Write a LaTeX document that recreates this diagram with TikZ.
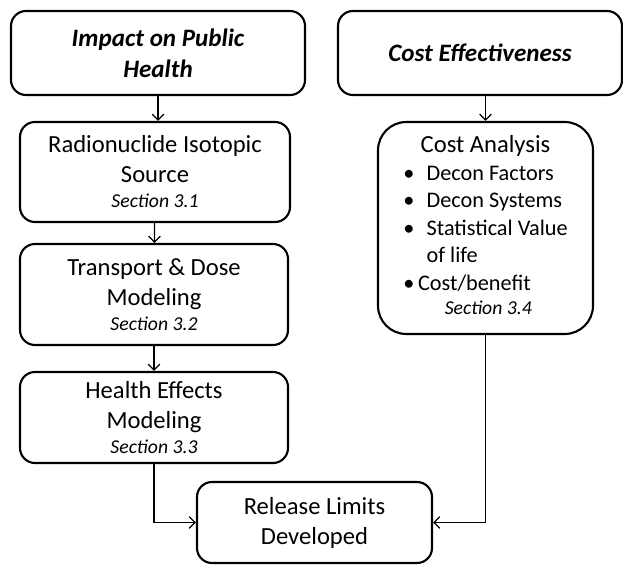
\documentclass[tikz,border=0pt]{standalone}
\usepackage{fontspec}
\setmainfont{Carlito}
\usetikzlibrary{arrows.meta}
\newcommand{\secref}[1]{{\fontsize{16.8}{20}\selectfont\itshape Section #1}}

\begin{document}
\begin{tikzpicture}[x=0.3mm,y=-0.3mm,
        box/.style={draw,line width=1.8pt,rounded corners=4.5mm,inner sep=0pt,align=center,
            font=\fontsize{21}{25.5}\selectfont},
        head/.style={box,font=\fontsize{21.4}{26.4}\selectfont\bfseries\itshape},
        bigbox/.style={box,rounded corners=8.5mm,font=\fontsize{19}{23.5}\selectfont},
        link/.style={line width=1.1pt,-{Straight Barb[length=5pt,width=10pt]}}]
    \useasboundingbox (0,0) rectangle (623,564);
    % Headings
    \node[head,minimum width=88.2mm,minimum height=25.2mm] (impact) at (158,53) {Impact on Public\\Health};
    \node[head,minimum width=85.2mm,minimum height=25.2mm] (costeff) at (480,53) {Cost Effectiveness};
    % Public health chain
    \node[box,minimum width=81mm,minimum height=30mm] (source) at (155,172)
        {Radionuclide Isotopic\\Source\\[-4pt]\secref{3.1}};
    \node[box,minimum width=80.4mm,minimum height=30.3mm] (transport) at (154,294.5)
        {Transport \& Dose\\Modeling\\[-4pt]\secref{3.2}};
    \node[box,minimum width=80.4mm,minimum height=27.3mm] (health) at (154,417.5)
        {Health Effects\\Modeling\\[-4pt]\secref{3.3}};
    % Cost chain
    \node[bigbox,minimum width=64.5mm,minimum height=63.6mm] (cost) at (485.5,228)
        {\begin{tabular}{@{}l@{\hspace{0.55em}}l@{}}
            \multicolumn{2}{@{}c@{}}{\fontsize{21}{25}\selectfont Cost Analysis}\\
            \textbullet & Decon Factors\\
            \textbullet & Decon Systems\\
            \textbullet & Statistical Value\\
                        & of life\\
            \multicolumn{2}{@{}l@{}}{\textbullet\,Cost/benefit}\\[-3pt]
            \multicolumn{2}{@{}c@{}}{\hspace{0.25em}\secref{3.4}}
        \end{tabular}};
    % Result
    \node[box,minimum width=70.5mm,minimum height=24.3mm] (release) at (314.5,522.5)
        {Release Limits\\Developed};
    % Links
    \draw[link] (impact.south) -- (impact.south |- source.north);
    \draw[link] (source) -- (transport);
    \draw[link] (transport) -- (health);
    \draw[link] (health.south) |- (release.west);
    \draw[link] (cost.north |- costeff.south) -- (cost.north);
    \draw[link] (cost.south) |- (release.east);
\end{tikzpicture}
\end{document}
